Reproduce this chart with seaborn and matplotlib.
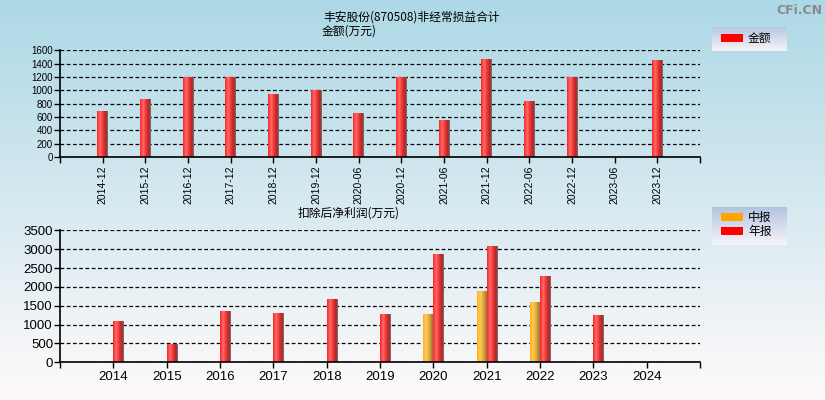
import numpy as np
import pandas as pd
import matplotlib
matplotlib.use("Agg")
import matplotlib.pyplot as plt
import seaborn as sns
from matplotlib.colors import LinearSegmentedColormap
from matplotlib.patches import Rectangle

# data
periods = ['2014-12', '2015-12', '2016-12', '2017-12', '2018-12', '2019-12', '2020-06',
           '2020-12', '2021-06', '2021-12', '2022-06', '2022-12', '2023-06', '2023-12']
nonrecurring = [675, 865, 1185, 1185, 940, 1000, 655, 1195, 550, 1465, 835, 1195, np.nan, 1450]

years = ['2014', '2015', '2016', '2017', '2018', '2019', '2020', '2021', '2022', '2023', '2024']
mid_profit = [np.nan, np.nan, np.nan, np.nan, np.nan, np.nan, 1250, 1880, 1565, np.nan, np.nan]
annual_profit = [1085, 455, 1350, 1295, 1670, 1270, 2860, 3075, 2255, 1220, np.nan]

title_main = '丰安股份(870508)非经常损益合计'
unit_top = '金额(万元)'
title_bottom = '扣除后净利润(万元)'

sns.set_style("white")
plt.rcParams['font.family'] = ['Noto Sans CJK SC', 'DejaVu Sans']

df_top = pd.DataFrame({'period': periods, 'value': nonrecurring}).dropna()
df_bot = pd.DataFrame({
    'year': years * 2,
    'kind': ['中报'] * len(years) + ['年报'] * len(years),
    'value': mid_profit + annual_profit,
}).dropna()

W, H = 825, 400
fig = plt.figure(figsize=(8.25, 4.0), dpi=100)

# background gradient lightblue -> snow
bg = fig.add_axes([0, 0, 1, 1])
bg.set_zorder(-1)
bg_cmap = LinearSegmentedColormap.from_list('bg', ['#add8e6', '#fffafa'])
bg.imshow(np.linspace(0, 1, 256).reshape(-1, 1), aspect='auto', cmap=bg_cmap,
          extent=[0, 1, 0, 1])
bg.axis('off')


def px_axes(x0, y0, x1, y1):
    return fig.add_axes([x0 / W, 1 - y1 / H, (x1 - x0) / W, (y1 - y0) / H])


red_cmap = LinearSegmentedColormap.from_list(
    'red', [(0, '#ff2424'), (0.3, '#ff6c6c'), (0.55, '#f03434'), (0.85, '#a82828'), (1.0, '#7a7a7a')])
org_cmap = LinearSegmentedColormap.from_list(
    'org', [(0, '#ffb020'), (0.3, '#ffca58'), (0.6, '#e0a438'), (0.85, '#a08034'), (1.0, '#7a7a7a')])
grad = np.linspace(0, 1, 64).reshape(1, -1)


def shade_bars(ax):
    for p in list(ax.patches):
        x, y = p.get_x(), p.get_y()
        w, h = p.get_width(), p.get_height()
        if not np.isfinite(h) or h <= 0:
            continue
        fc = p.get_facecolor()
        cmap = org_cmap if fc[1] > 0.4 else red_cmap
        ax.imshow(grad, aspect='auto', cmap=cmap, extent=[x, x + w, y, y + h],
                  zorder=2, interpolation='bilinear')
        p.set_visible(False)


def style_axes(ax, ymax, ystep, xn, ysize, xsize, rot):
    ax.set_facecolor('none')
    ax.set_xlim(-1, xn)
    ax.set_ylim(0, ymax)
    ax.set_yticks(np.arange(0, ymax + 1, ystep))
    ax.set_xticks([-1, xn], minor=True)
    sns.despine(ax=ax, top=True, right=True)
    for s in ['left', 'bottom']:
        ax.spines[s].set_color('black')
        ax.spines[s].set_linewidth(1.2)
    ax.set_axisbelow(True)
    ax.yaxis.grid(True, color='black', linestyle=(0, (3, 2)), linewidth=0.9)
    ax.tick_params(axis='y', which='major', direction='out', length=4, width=1,
                   labelsize=ysize, pad=1, colors='black', left=True)
    ax.tick_params(axis='x', which='both', direction='out', length=4, width=1,
                   labelsize=xsize, pad=2, colors='black', bottom=True, labelrotation=rot)
    for lab in ax.get_xticklabels() + ax.get_yticklabels():
        lab.set_fontfamily(['Liberation Sans', 'DejaVu Sans'])
    ax.set_xlabel('')
    ax.set_ylabel('')


# top chart
ax1 = px_axes(60, 50.3, 700, 157)
sns.barplot(data=df_top, x='period', y='value', order=periods, color='red',
            width=0.25, ax=ax1, saturation=1)
shade_bars(ax1)
style_axes(ax1, 1600, 200, len(periods), 7, 7.5, 90)

# bottom chart
ax2 = px_axes(60, 230.3, 700, 362.3)
sns.barplot(data=df_bot, x='year', y='value', hue='kind', order=years,
            hue_order=['中报', '年报'], palette={'中报': '#ffa500', '年报': 'red'},
            width=0.38, dodge=True, ax=ax2, saturation=1, legend=False)
shade_bars(ax2)
style_axes(ax2, 3500, 500, len(years), 9.5, 9.5, 0)

# titles
fig.text(323 / W, 1 - 17 / H, title_main, fontsize=8.5, va='center', ha='left', color='black')
fig.text(322 / W, 1 - 31.5 / H, unit_top, fontsize=8.5, va='center', ha='left', color='black')
fig.text(298 / W, 1 - 213 / H, title_bottom, fontsize=8.5, va='center', ha='left', color='black')

# watermark
fig.text(822 / W, 1 - 10 / H, 'CFi.CN', fontsize=9, fontweight='bold', color='#8a8a8a',
         ha='right', va='center', family=['DejaVu Sans'])

# legend boxes with vertical gradient
leg_cmap = LinearSegmentedColormap.from_list('leg', ['#b4c4e0', '#f6f4f8'])


def legend_box(y0, y1, items):
    lax = px_axes(712, y0, 787, y1)
    lax.imshow(np.linspace(0, 1, 64).reshape(-1, 1), aspect='auto', cmap=leg_cmap,
               extent=[712, 787, y1, y0])
    lax.set_xlim(712, 787)
    lax.set_ylim(y1, y0)
    for yc, label, col in items:
        lax.add_patch(Rectangle((721, yc - 4), 22, 8, facecolor=col, edgecolor='none'))
        lax.text(748, yc, label, fontsize=8.5, va='center', ha='left', color='black')
    lax.axis('off')


legend_box(27, 51, [(38, '金额', 'red')])
legend_box(207, 245, [(217, '中报', '#ffa500'), (231, '年报', 'red')])

fig.savefig('out.png', dpi=100)
